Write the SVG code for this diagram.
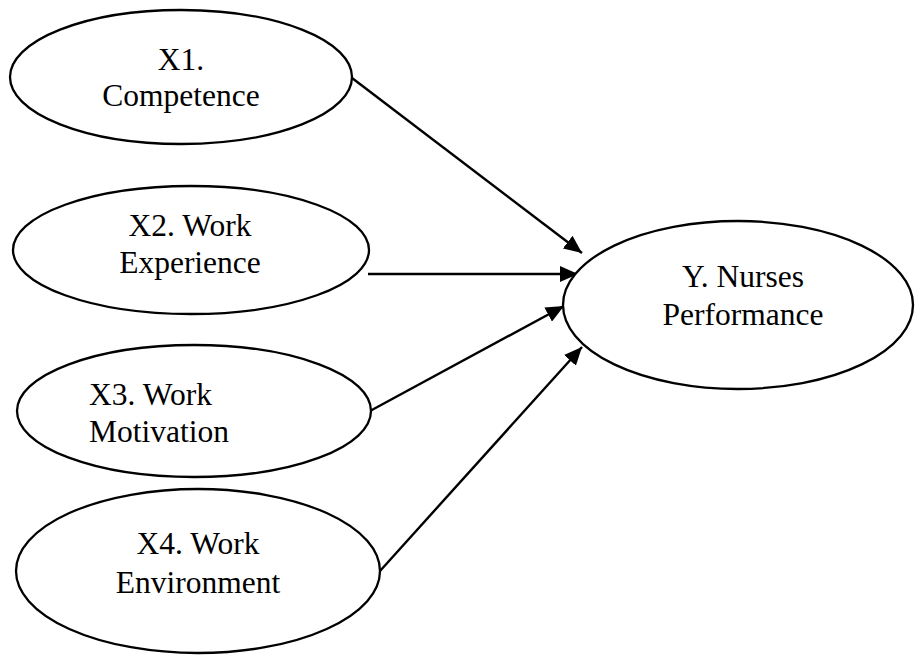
<svg xmlns="http://www.w3.org/2000/svg" width="915" height="655" viewBox="0 0 915 655">
<style>
.node ellipse{fill:#fff;stroke:#000;stroke-width:2.3}
text{font-family:"Liberation Serif","Times New Roman",serif;font-size:31.5px;fill:#000}
.c{text-anchor:middle}
#connectors line{stroke:#000;stroke-width:2.4;fill:none}
</style>
<defs>
<marker id="ah" markerUnits="userSpaceOnUse" markerWidth="18" markerHeight="16" viewBox="0 0 18 16" refX="18" refY="8" orient="auto">
<path d="M0,0 L18,8 L0,16 Z" fill="#000"/>
</marker>
</defs>
<rect width="915" height="655" fill="#fff"/>
<g id="connectors">
<line x1="352" y1="78" x2="582" y2="253" marker-end="url(#ah)"/>
<line x1="368" y1="274" x2="578" y2="274" marker-end="url(#ah)"/>
<line x1="370" y1="411" x2="564" y2="306" marker-end="url(#ah)"/>
<line x1="380" y1="571" x2="582" y2="347" marker-end="url(#ah)"/>
</g>
<g id="x1" class="node">
<ellipse cx="181" cy="77" rx="171" ry="67"/>
<text class="c" x="181" y="70">X1.</text>
<text class="c" x="181" y="106">Competence</text>
</g>
<g id="x2" class="node">
<ellipse cx="191" cy="250" rx="178" ry="64"/>
<text class="c" x="190" y="236">X2. Work</text>
<text class="c" x="190" y="273">Experience</text>
</g>
<g id="x3" class="node">
<ellipse cx="194" cy="411" rx="177" ry="66"/>
<text x="89" y="405">X3. Work</text>
<text x="89" y="442">Motivation</text>
</g>
<g id="x4" class="node">
<ellipse cx="198" cy="571" rx="182" ry="82"/>
<text class="c" x="198" y="554">X4. Work</text>
<text class="c" x="198" y="593">Environment</text>
</g>
<g id="y" class="node">
<ellipse cx="738" cy="305" rx="175" ry="84"/>
<text class="c" x="743" y="287">Y. Nurses</text>
<text class="c" x="743" y="325">Performance</text>
</g>
</svg>
